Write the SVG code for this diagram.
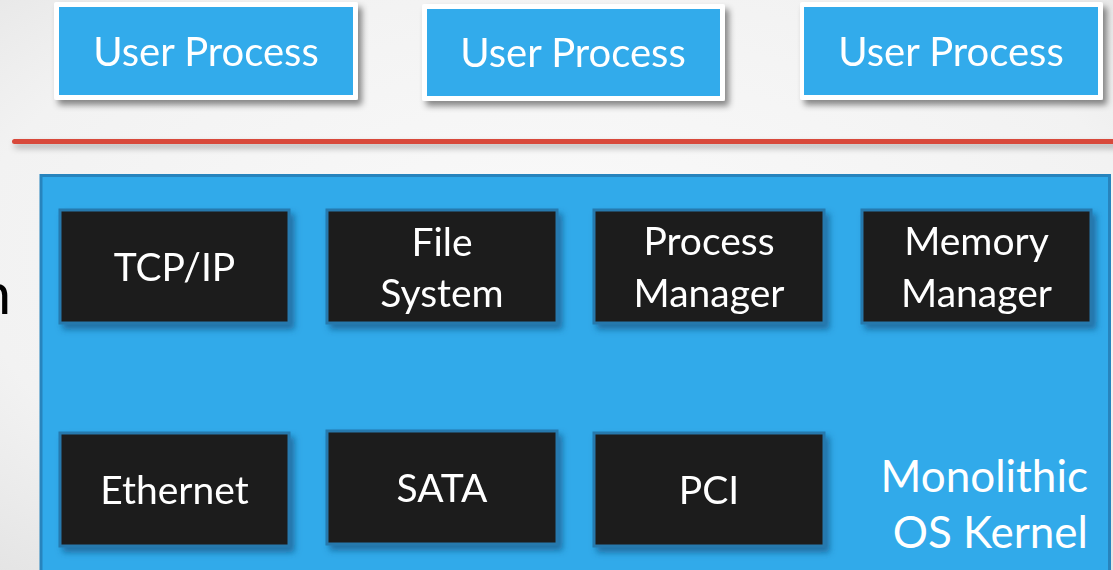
<svg xmlns="http://www.w3.org/2000/svg" width="1113" height="570" viewBox="0 0 1113 570">
  <defs>
    <radialGradient id="bg" cx="0.5" cy="0.45" r="0.75">
      <stop offset="0" stop-color="#fafafa"/>
      <stop offset="0.7" stop-color="#f2f2f2"/>
      <stop offset="1" stop-color="#e4e4e4"/>
    </radialGradient>
    <filter id="shadowLight" x="-10%" y="-20%" width="125%" height="150%">
      <feDropShadow dx="4" dy="5" stdDeviation="3" flood-color="#000" flood-opacity="0.45"/>
    </filter>
    <filter id="shadowDark" x="-10%" y="-20%" width="125%" height="150%">
      <feDropShadow dx="4" dy="5" stdDeviation="3" flood-color="#0b4a75" flood-opacity="0.6"/>
    </filter>
    <filter id="lineShadow" filterUnits="userSpaceOnUse" x="0" y="125" width="1113" height="40">
      <feDropShadow dx="2" dy="4" stdDeviation="3" flood-color="#000" flood-opacity="0.3"/>
    </filter>
  </defs>
  <style>
    .txt { font-family: Lato, "Open Sans", "Liberation Sans", sans-serif; fill: #ffffff; text-anchor: middle; }
    .right { text-anchor: end; }
    .user rect.frame { fill: #ffffff; }
    .user rect.body { fill: #31abeb; }
    .user text { font-size: 40px; }
    .mod rect { fill: #1b1b1b; stroke: #2679ad; stroke-width: 3; }
    .mod text { font-size: 39px; }
  </style>

  <!-- slide background -->
  <rect x="0" y="0" width="1113" height="570" fill="url(#bg)"/>

  <!-- clipped title letter at the left edge -->
  <text x="11" y="314" font-family="Lato, 'Open Sans', sans-serif" font-size="58" fill="#000" text-anchor="end">n</text>

  <!-- user-space processes -->
  <g id="user1" class="user" filter="url(#shadowLight)">
    <rect class="frame" x="54" y="2" width="304" height="98" rx="2"/>
    <rect class="body" x="59" y="7" width="294" height="88"/>
    <text class="txt" x="206" y="66">User Process</text>
  </g>
  <g id="user2" class="user" filter="url(#shadowLight)">
    <rect class="frame" x="422" y="4" width="303" height="97" rx="2"/>
    <rect class="body" x="427" y="9" width="293" height="87"/>
    <text class="txt" x="573" y="67">User Process</text>
  </g>
  <g id="user3" class="user" filter="url(#shadowLight)">
    <rect class="frame" x="800" y="2" width="303" height="98" rx="2"/>
    <rect class="body" x="804" y="7" width="294" height="88"/>
    <text class="txt" x="951" y="66">User Process</text>
  </g>

  <!-- user / kernel boundary -->
  <g id="boundary">
    <rect x="12" y="139" width="1110" height="5" rx="2.5" fill="#d84a3a" filter="url(#lineShadow)"/>
  </g>

  <!-- kernel -->
  <g id="kernel">
    <rect x="41" y="175.5" width="1068.5" height="410" fill="#31aaea" stroke="#2784bd" stroke-width="3"/>
    <text class="txt right" x="1088" y="492" font-size="44">Monolithic</text>
    <text class="txt right" x="1088" y="548" font-size="44">OS Kernel</text>
  </g>

  <!-- kernel subsystems -->
  <g id="tcpip" class="mod" filter="url(#shadowDark)">
    <rect x="60" y="210" width="229" height="113"/>
    <text class="txt" x="174.5" y="281">TCP/IP</text>
  </g>
  <g id="filesystem" class="mod" filter="url(#shadowDark)">
    <rect x="327" y="210" width="230" height="113"/>
    <text class="txt" x="442" y="256">File</text>
    <text class="txt" x="442" y="307">System</text>
  </g>
  <g id="procmgr" class="mod" filter="url(#shadowDark)">
    <rect x="594" y="210" width="230" height="113"/>
    <text class="txt" x="709" y="255">Process</text>
    <text class="txt" x="709" y="307">Manager</text>
  </g>
  <g id="memmgr" class="mod" filter="url(#shadowDark)">
    <rect x="862" y="210" width="229" height="113"/>
    <text class="txt" x="976.5" y="255">Memory</text>
    <text class="txt" x="976.5" y="307">Manager</text>
  </g>

  <!-- device drivers -->
  <g id="ethernet" class="mod" filter="url(#shadowDark)">
    <rect x="60" y="433" width="229" height="113"/>
    <text class="txt" x="174.5" y="504">Ethernet</text>
  </g>
  <g id="sata" class="mod" filter="url(#shadowDark)">
    <rect x="327" y="431" width="230" height="113"/>
    <text class="txt" x="442" y="502">SATA</text>
  </g>
  <g id="pci" class="mod" filter="url(#shadowDark)">
    <rect x="594" y="433" width="230" height="113"/>
    <text class="txt" x="709" y="504">PCI</text>
  </g>
</svg>
